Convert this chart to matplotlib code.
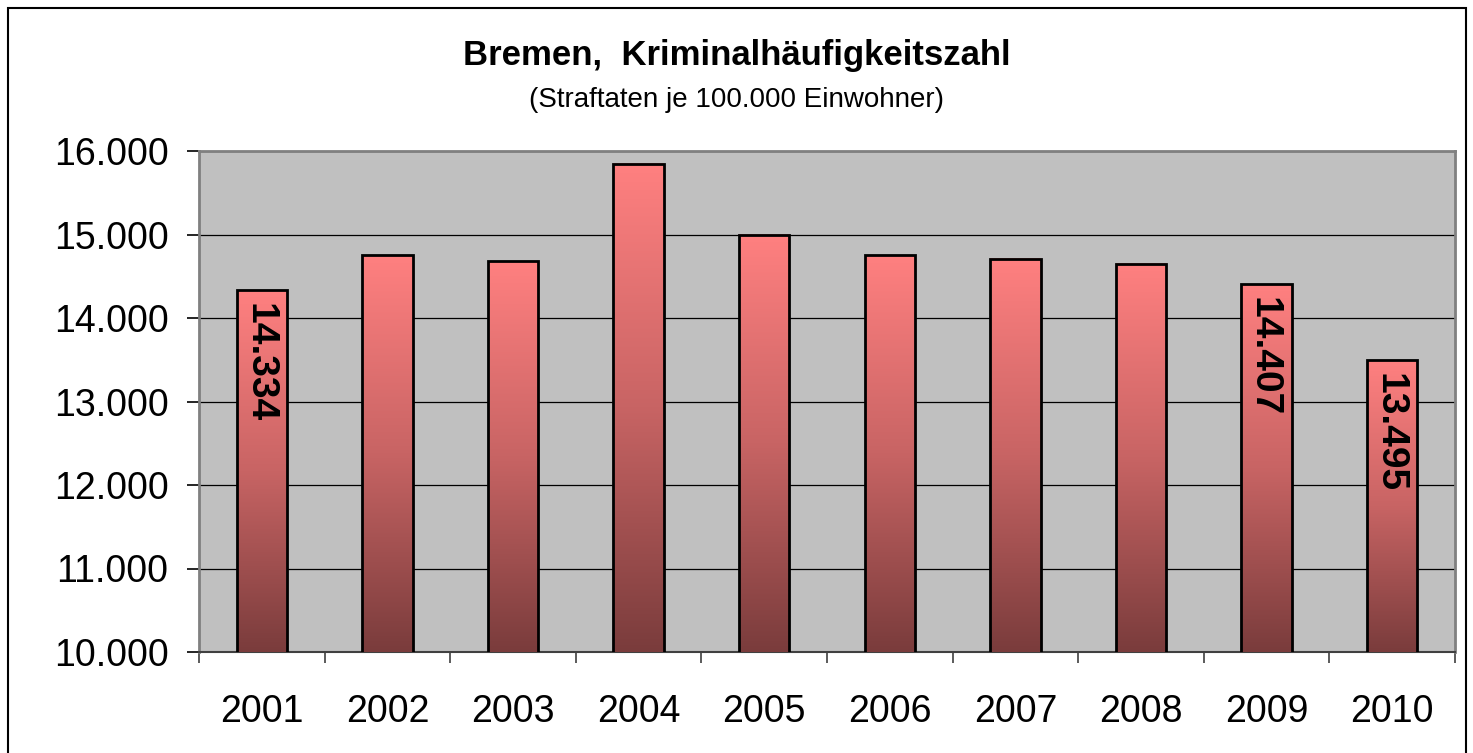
import matplotlib.pyplot as plt
import numpy as np
from matplotlib.colors import LinearSegmentedColormap
from matplotlib.ticker import FuncFormatter, FixedLocator
from matplotlib.patches import Rectangle

plt.rcParams['font.family'] = ['Liberation Sans', 'DejaVu Sans']

# data
years = ['2001', '2002', '2003', '2004', '2005', '2006', '2007', '2008', '2009', '2010']
values = [14334, 14749, 14678, 15847, 14995, 14749, 14709, 14649, 14407, 13495]
labelled = ['2001', '2009', '2010']

title = 'Bremen,  Kriminalhäufigkeitszahl'
subtitle = '(Straftaten je 100.000 Einwohner)'

fig = plt.figure(figsize=(14.73, 7.53), dpi=100)
ax = fig.add_axes([199 / 1473, 1 - 652 / 753, (1455 - 199) / 1473, (652 - 151) / 753])
ax.set_facecolor('#C0C0C0')

x = np.arange(len(years))
bars = ax.bar(x, values, width=0.4, facecolor='none', edgecolor='black', linewidth=2.0, zorder=4)

# vertical gradient inside each bar
cmap = LinearSegmentedColormap.from_list('bar', ['#7A3C3C', '#C86464', '#FF8080'])
grad = np.linspace(0, 1, 256).reshape(-1, 1)
ymin = 10000
for b in bars:
    x0 = b.get_x()
    ax.imshow(grad, cmap=cmap, origin='lower', aspect='auto', zorder=3,
              extent=[x0, x0 + b.get_width(), ymin, b.get_height()])

ax.set_xlim(-0.5, len(years) - 0.5)
ax.set_ylim(10000, 16000)
ax.set_yticks(np.arange(10000, 16001, 1000))
ax.yaxis.set_major_formatter(FuncFormatter(lambda v, p: f'{v:,.0f}'.replace(',', '.')))
ax.grid(axis='y', color='black', linewidth=0.9, zorder=1)
ax.set_axisbelow(True)

ax.set_xticks(x)
ax.set_xticklabels(years)
ax.xaxis.set_minor_locator(FixedLocator(np.arange(-0.5, len(years), 1)))
ax.tick_params(axis='x', which='major', length=0, pad=30, labelsize=27)
ax.tick_params(axis='x', which='minor', length=8, width=1.2, color='#404040')
ax.tick_params(axis='y', which='major', length=9, width=1.2, color='black', pad=13, labelsize=27)

for side in ['left', 'right', 'top']:
    ax.spines[side].set_color('#808080')
    ax.spines[side].set_linewidth(2)
ax.spines['bottom'].set_color('#404040')
ax.spines['bottom'].set_linewidth(1.5)

# rotated value labels
for b, yr, v in zip(bars, years, values):
    if yr in labelled:
        ax.annotate(f'{v:,}'.replace(',', '.'), (b.get_x() + b.get_width() / 2, v),
                    xytext=(-2, -9), textcoords='offset points', rotation=-90,
                    ha='center', va='top', fontsize=28, fontweight='bold', zorder=5)

fig.text(0.5, 1 - 55 / 753, title, ha='center', va='center', fontsize=25, fontweight='bold')
fig.text(0.5, 1 - 100 / 753, subtitle, ha='center', va='center', fontsize=20)

# outer chart border
fig.patches.append(Rectangle((8 / 1473, -0.05), (1466 - 8) / 1473, 1.05 - 8 / 753,
                             transform=fig.transFigure, fill=False, edgecolor='black',
                             linewidth=1.5))

fig.savefig('out.png', dpi=100)
